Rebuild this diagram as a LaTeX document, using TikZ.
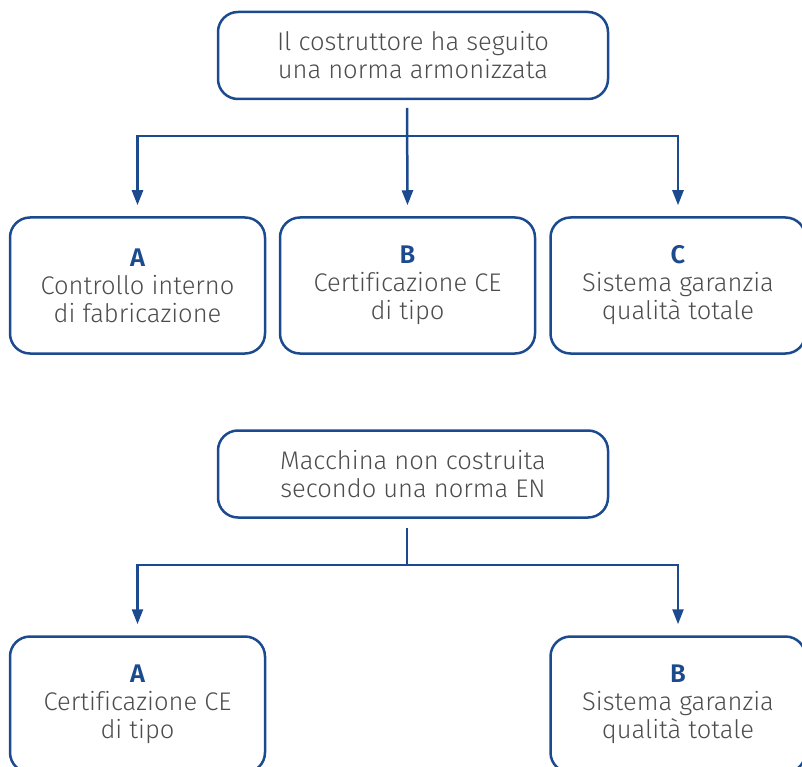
\documentclass[tikz,border=0pt]{standalone}
\usepackage{fontspec}
\setmainfont{Fira Sans}[UprightFont=* Light, BoldFont=* SemiBold, Ligatures=NoCommon]
\usepackage{xcolor}
\usetikzlibrary{arrows.meta, positioning}
\definecolor{normblue}{RGB}{28,74,143}
\definecolor{normgray}{RGB}{77,77,77}
\newcommand{\procletter}[1]{{\bfseries\color{normblue}#1}}
\tikzset{
  headbox/.style={
    draw=normblue, line width=2.5pt, rounded corners=20pt, align=center,
    text=normgray, font=\fontsize{25.5}{28}\selectfont,
    minimum width=390pt, minimum height=87pt
  },
  procbox/.style={
    draw=normblue, line width=2.5pt, rounded corners=20pt, align=center,
    text=normgray, font=\fontsize{25.5}{28}\selectfont,
    minimum width=255pt, minimum height=136pt
  },
  flowline/.style={draw=normblue, line width=2.5pt},
  flowarrow/.style={flowline, -{Triangle[length=15pt,width=11pt]}},
}

\begin{document}
\begin{tikzpicture}[x=1pt, y=-1pt]
  \useasboundingbox (0,0) rectangle (802,767);
  \clip (0,0) rectangle (802,767);

  % --- Norma armonizzata ---
  \node[headbox] (harm) at (413,55.5)
    {Il costruttore ha seguito\\una norma armonizzata};

  \node[procbox] (harmA) at (137.5,285.5)
    {\procletter{A}\\Controllo interno\\di fabricazione};
  \node[procbox] (harmB) at (407.5,285.5)
    {\procletter{B}\\Certificazione CE\\di tipo};
  \node[procbox] (harmC) at (678,285.5)
    {\procletter{C}\\Sistema garanzia\\qualità totale};

  \coordinate (harmstem) at (407,108);
  \coordinate (harmsplit) at (407,136);

  \draw[flowarrow] (harmstem) -- ([yshift=11pt]harmB.north);
  \draw[flowarrow] (harmsplit) -| ([yshift=11pt]harmA.north);
  \draw[flowarrow] (harmsplit) -| ([yshift=11pt]harmC.north);

  % --- Nessuna norma EN ---
  \node[headbox] (noEN) at (413,474)
    {Macchina non costruita\\secondo una norma EN};

  \node[procbox] (noENA) at (137.5,704.5)
    {\procletter{A}\\Certificazione CE\\di tipo};
  \node[procbox] (noENB) at (678,704.5)
    {\procletter{B}\\Sistema garanzia\\qualità totale};

  \coordinate (noENstem) at (407,528);
  \coordinate (noENsplit) at (407,565);

  \draw[flowline] (noENstem) -- (noENsplit);
  \draw[flowarrow] (noENsplit) -| ([yshift=11pt]noENA.north);
  \draw[flowarrow] (noENsplit) -| ([yshift=11pt]noENB.north);
\end{tikzpicture}
\end{document}
